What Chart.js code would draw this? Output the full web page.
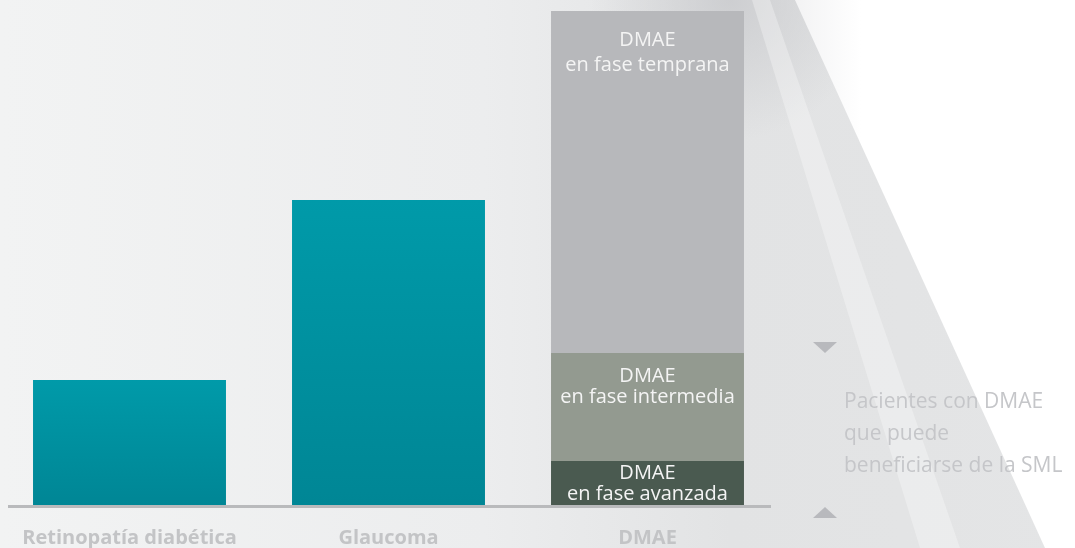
<!DOCTYPE html>
<html>
<head>
  <meta charset="utf-8">
  <title>DMAE</title>
  <script src="https://cdn.jsdelivr.net/npm/chart.js"></script>
  <style>
    body { margin: 0; }
    #wrap { width: 1075px; height: 548px; }
  </style>
</head>
<body>
  <div id="wrap"><canvas id="grafico"></canvas></div>

  <script>
    // datos (unidades relativas)
    var categorias = ['Retinopatía diabética', 'Glaucoma', 'DMAE'];
    var otras = [125, 305, 0];
    var dmaeAvanzada = [0, 0, 44];
    var dmaeIntermedia = [0, 0, 108];
    var dmaeTemprana = [0, 0, 342];
    var maxY = 494;
    var etiquetasAvanzada = ['DMAE', 'en fase avanzada'];
    var etiquetasIntermedia = ['DMAE', 'en fase intermedia'];
    var etiquetasTemprana = ['DMAE', 'en fase temprana'];
    var nota = ['Pacientes con DMAE', 'que puede', 'beneficiarse de la SML'];

    var fondo = {
      id: 'fondo',
      beforeDraw: function(chart) {
        var c = chart.ctx, w = chart.width, h = chart.height;
        c.save();
        var g = c.createLinearGradient(0, 0, w, 0);
        g.addColorStop(0, '#f2f3f3');
        g.addColorStop(0.45, '#ecedee');
        g.addColorStop(0.68, '#e2e3e4');
        g.addColorStop(1, '#e4e5e6');
        c.fillStyle = g;
        c.fillRect(0, 0, w, h);
        // pliegue oscuro arriba
        var g3 = c.createRadialGradient(730, 0, 0, 730, 0, 140);
        g3.addColorStop(0, 'rgba(200,201,204,0.8)');
        g3.addColorStop(1, 'rgba(200,201,204,0)');
        c.fillStyle = g3;
        c.fillRect(590, 0, 280, 160);
        // pliegue claro
        c.fillStyle = 'rgba(255,255,255,0.3)';
        c.beginPath();
        c.moveTo(752, 0); c.lineTo(770, 0); c.lineTo(960, 548); c.lineTo(920, 548);
        c.closePath(); c.fill();
        // zona blanca derecha
        var g2 = c.createLinearGradient(790, 0, 1075, 0);
        g2.addColorStop(0, '#f2f2f3');
        g2.addColorStop(0.25, '#ffffff');
        c.fillStyle = g2;
        c.beginPath();
        c.moveTo(795, 0); c.lineTo(1075, 0); c.lineTo(1075, 548); c.lineTo(1045, 548);
        c.closePath(); c.fill();
        c.restore();
      }
    };

    var extras = {
      id: 'extras',
      afterDatasetsDraw: function(chart) {
        var c = chart.ctx, a = chart.chartArea;
        c.save();
        // linea base
        c.fillStyle = '#b9babc';
        c.fillRect(8, a.bottom, 763, 3);
        // etiquetas dentro de los segmentos
        var conf = [
          { ds: 1, lines: etiquetasAvanzada, off: 12, gap: 21 },
          { ds: 2, lines: etiquetasIntermedia, off: 23, gap: 21 },
          { ds: 3, lines: etiquetasTemprana, off: 29, gap: 25 }
        ];
        c.fillStyle = '#f4f4f4';
        c.font = '20px "Open Sans"';
        c.textAlign = 'center';
        c.textBaseline = 'middle';
        conf.forEach(function(o) {
          var el = chart.getDatasetMeta(o.ds).data[2];
          o.lines.forEach(function(t, i) {
            c.fillText(t, el.x, el.y + o.off + i * o.gap);
          });
        });
        // nota lateral
        c.fillStyle = '#c5c6c9';
        c.font = '21px "Open Sans"';
        c.textAlign = 'left';
        nota.forEach(function(t, i) {
          c.fillText(t, 844, 402 + i * 32);
        });
        c.fillStyle = '#b8b9bd';
        c.beginPath();
        c.moveTo(813, 342); c.lineTo(837, 342); c.lineTo(825, 353); c.closePath(); c.fill();
        c.beginPath();
        c.moveTo(813, 518); c.lineTo(837, 518); c.lineTo(825, 507); c.closePath(); c.fill();
        c.restore();
      }
    };

    function tealGrad(context) {
      var chart = context.chart;
      var a = chart.chartArea;
      if (!a) return '#0095a4';
      var v = context.raw || 0;
      var top = chart.scales.y.getPixelForValue(v);
      var g = chart.ctx.createLinearGradient(0, top, 0, a.bottom);
      g.addColorStop(0, '#009aa9');
      g.addColorStop(1, '#008695');
      return g;
    }

    var ctx = document.getElementById('grafico').getContext('2d');
    new Chart(ctx, {
      type: 'bar',
      data: {
        labels: categorias,
        datasets: [
          { label: 'Otras', data: otras, backgroundColor: tealGrad },
          { label: 'DMAE en fase avanzada', data: dmaeAvanzada, backgroundColor: '#4a5a50' },
          { label: 'DMAE en fase intermedia', data: dmaeIntermedia, backgroundColor: '#939a90' },
          { label: 'DMAE en fase temprana', data: dmaeTemprana, backgroundColor: '#b7b8bb' }
        ]
      },
      options: {
        responsive: true,
        maintainAspectRatio: false,
        animation: false,
        layout: { padding: { top: 11, right: 298, left: 0, bottom: -23 } },
        datasets: { bar: { barPercentage: 0.745, categoryPercentage: 1, borderWidth: 0 } },
        plugins: { legend: { display: false }, tooltip: { enabled: false } },
        scales: {
          x: {
            stacked: true,
            grid: { display: false, drawTicks: false },
            border: { display: false },
            ticks: {
              padding: 21,
              color: '#c3c4c6',
              font: { family: 'Open Sans', size: 20, weight: 'bold' }
            }
          },
          y: { stacked: true, display: false, min: 0, max: maxY }
        }
      },
      plugins: [fondo, extras]
    });
  </script>
</body>
</html>
